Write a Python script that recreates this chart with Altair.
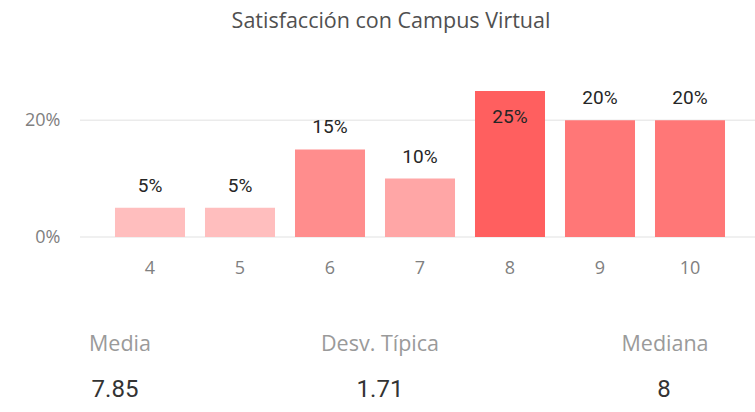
import altair as alt
import pandas as pd

title_text = "Satisfacción con Campus Virtual"
scores = ["4", "5", "6", "7", "8", "9", "10"]
shares = [5, 5, 15, 10, 25, 20, 20]
bar_colors = ["#FFBEBE", "#FFBEBE", "#FF8D8D", "#FFA6A6", "#FF5F5F", "#FF7777", "#FF7777"]
grid_values = [0, 20]
stat_names = ["Media", "Desv. Típica", "Mediana"]
stat_values = ["7.85", "1.71", "8"]

df = pd.DataFrame({"score": scores, "share": shares, "color": bar_colors})
df["label"] = [f"{v}%" for v in shares]
grid_df = pd.DataFrame({"g": grid_values})

W, H = 630, 146
FONT = "Open Sans"

yscale = alt.Scale(domain=[0, 25], nice=False)
xscale = alt.Scale(domain=scores, paddingInner=0.222, paddingOuter=0.111)

grid = alt.Chart(grid_df).mark_rule(color="#EBEBEB", strokeWidth=1.5).encode(
    x=alt.value(-25), x2=alt.value(W + 25),
    y=alt.Y("g:Q", scale=yscale, axis=alt.Axis(
        values=grid_values, format="d", labelExpr="datum.value + '%'",
        grid=False, domain=False, ticks=False, title=None,
        labelFont=FONT, labelFontSize=18, labelColor="#808080", labelPadding=45)),
)

bars = alt.Chart(df).mark_bar().encode(
    x=alt.X("score:N", scale=xscale, sort=scores, axis=alt.Axis(
        title=None, labelAngle=0, domain=False, ticks=False, grid=False,
        labelFont=FONT, labelFontSize=18, labelColor="#808080", labelPadding=22)),
    y=alt.Y("share:Q", scale=yscale),
    color=alt.Color("color:N", scale=None),
)

label_base = alt.Chart(df).encode(
    x=alt.X("score:N", scale=xscale, sort=scores),
    y=alt.Y("share:Q", scale=yscale),
    text="label:N",
)
label_style = dict(font="Roboto", fontSize=19, fontWeight="normal", color="#262626", baseline="middle")
labels_out = label_base.transform_filter("datum.share < 25").mark_text(dy=-22, **label_style)
labels_in = label_base.transform_filter("datum.share >= 25").mark_text(dy=26, **label_style)

title = alt.Chart(pd.DataFrame({"t": [title_text]})).mark_text(
    font=FONT, fontSize=21.5, color="#505050", baseline="middle"
).encode(x=alt.value(286), y=alt.value(-69), text="t:N")

name_x = [15, 275, 560]
value_x = [10, 275, 559]
stat_layers = []
for i, (n, v) in enumerate(zip(stat_names, stat_values)):
    d = pd.DataFrame({"name": [n], "value": [v]})
    stat_layers.append(alt.Chart(d).mark_text(
        font=FONT, fontSize=21.5, color="#9A9A9A", baseline="middle"
    ).encode(x=alt.value(name_x[i]), y=alt.value(254), text="name:N"))
    stat_layers.append(alt.Chart(d).mark_text(
        font="Roboto", fontSize=24, color="#333333", baseline="middle"
    ).encode(x=alt.value(value_x[i]), y=alt.value(299), text="value:N"))

chart = alt.layer(grid, bars, labels_out, labels_in, title, *stat_layers).properties(
    width=W, height=H,
    background="white",
    autosize=alt.AutoSizeParams(type="none"),
    padding={"left": 105, "top": 91, "right": 20, "bottom": 175},
).configure_view(strokeWidth=0, stroke="transparent")

chart.save("out.html", embed_options={"renderer": "svg", "actions": False})
